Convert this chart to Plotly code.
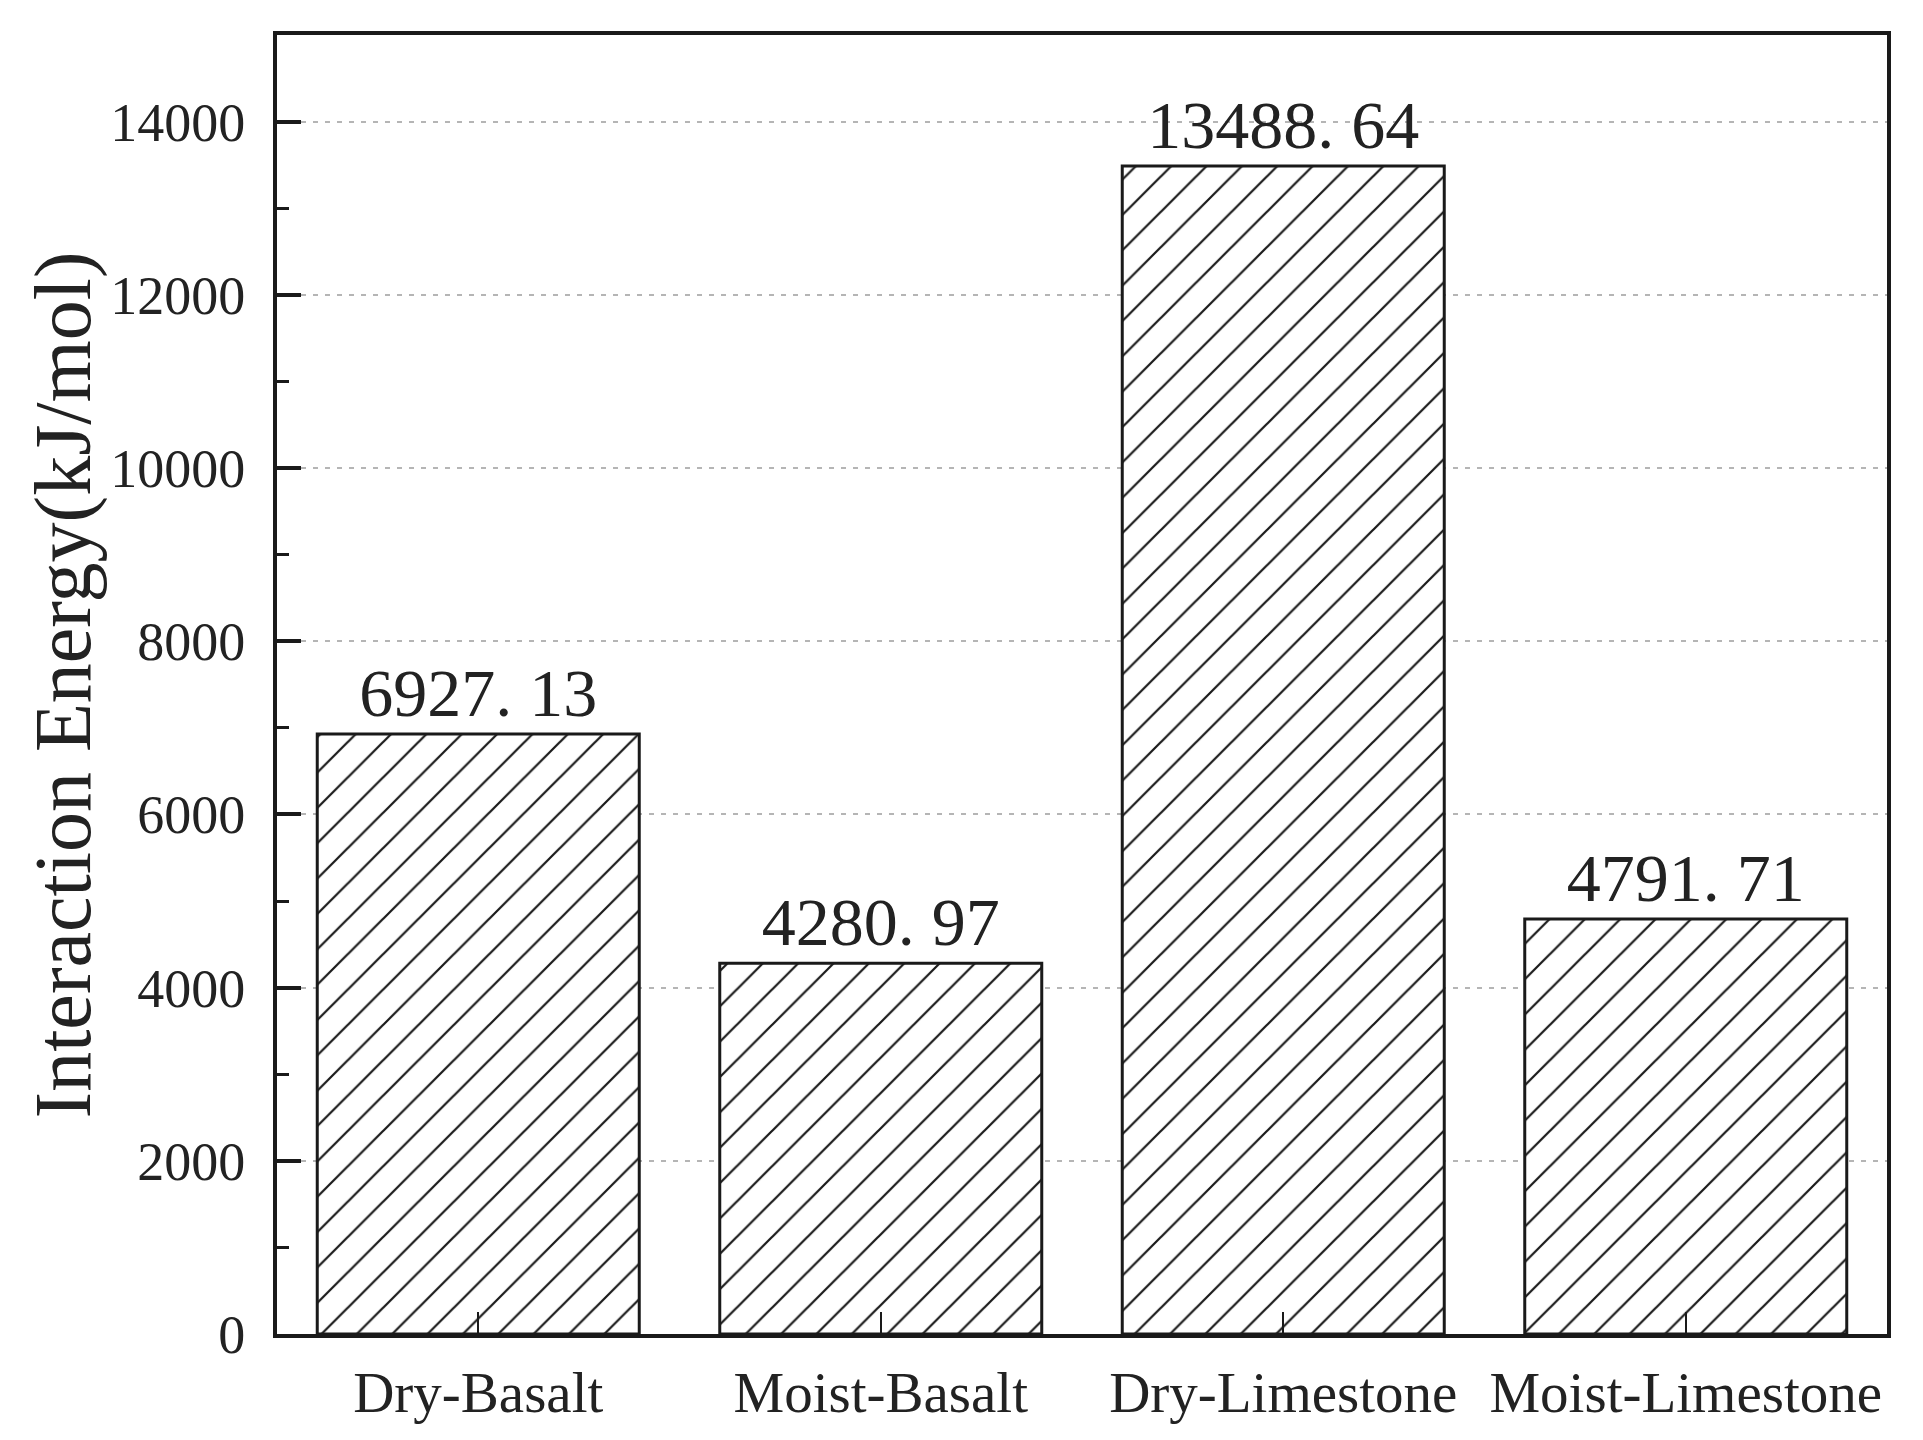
import plotly.graph_objects as go

categories = ["Dry-Basalt", "Moist-Basalt", "Dry-Limestone", "Moist-Limestone"]
energy = [6927.13, 4280.97, 13488.64, 4791.71]
ytick_vals = [0, 2000, 4000, 6000, 8000, 10000, 12000, 14000]
ytick_text = ["0", "2000", "4000", "6000", "8000", "10000", "12000", "14000"]

# labels in the original put a gap after the decimal point
labels = ["{:.2f}".format(v).replace(".", ". ") for v in energy]

serif = "Liberation Serif"
ink = "#222222"

bars = go.Bar(
    x=categories,
    y=energy,
    width=0.8,
    text=labels,
    textposition="outside",
    cliponaxis=False,
    textfont=dict(family=serif, size=68, color=ink),
    marker=dict(
        color="white",
        line=dict(color="#1a1a1a", width=3),
        pattern=dict(shape="/", fgcolor="#1a1a1a", bgcolor="white",
                     fgopacity=1, size=25, solidity=0.09),
    ),
    showlegend=False,
)

fig = go.Figure(data=[bars])

fig.update_layout(
    width=1923,
    height=1440,
    paper_bgcolor="white",
    plot_bgcolor="white",
    margin=dict(l=269, r=44, t=27, b=114),
    font=dict(family=serif, color=ink),
    bargap=0.2,
    # y title placed as an annotation so it sits where the original has it
    annotations=[dict(
        text="Interaction Energy(kJ/mol)",
        textangle=-90,
        xref="paper", yref="paper",
        x=-0.1323, y=0.5,
        xanchor="center", yanchor="middle",
        showarrow=False,
        font=dict(family=serif, size=80, color=ink),
    )],
)

fig.update_xaxes(
    range=[-0.5, 3.5],
    showline=True, linecolor="#1a1a1a", linewidth=4, mirror=True,
    ticks="inside", ticklen=22, tickwidth=2, tickcolor="#1a1a1a",
    tickfont=dict(family=serif, size=57, color=ink),
    ticklabelstandoff=6,
    showgrid=False,
    zeroline=False,
)

fig.update_yaxes(
    range=[0, 15000],
    tickvals=ytick_vals,
    ticktext=ytick_text,
    showline=True, linecolor="#1a1a1a", linewidth=4, mirror=True,
    ticks="inside", ticklen=24, tickwidth=4, tickcolor="#1a1a1a",
    tickfont=dict(family=serif, size=54, color=ink),
    ticklabelstandoff=17,
    minor=dict(dtick=1000, ticks="inside", ticklen=12, tickwidth=3,
               tickcolor="#1a1a1a", showgrid=False),
    showgrid=True, gridcolor="#b5b5b5", gridwidth=2, griddash="5px,7px",
    zeroline=False,
)

fig.write_html("out.html")
